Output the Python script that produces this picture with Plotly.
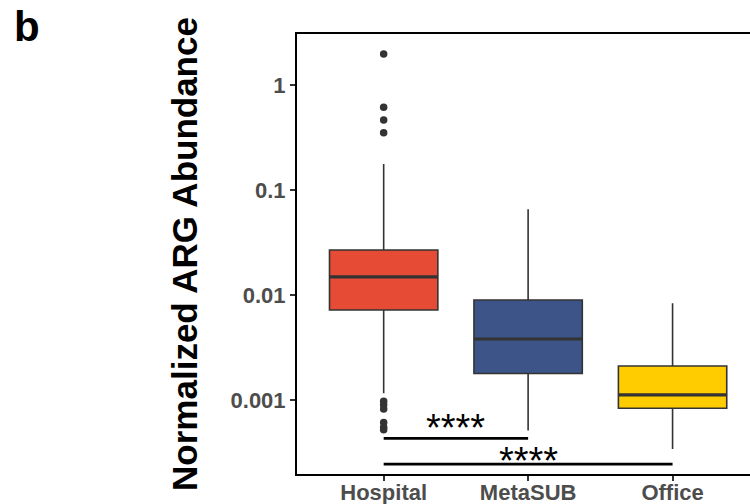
import math
import plotly.graph_objects as go

# Sample groups and their box statistics (normalized ARG abundance)
groups = ["Hospital", "MetaSUB", "Office"]
positions = [1, 2, 3]
fill_colors = ["#E64B35", "#3C5488", "#FFCC00"]
q1_vals = [0.00720, 0.00179, 0.000833]
median_vals = [0.0149, 0.00381, 0.00112]
q3_vals = [0.0268, 0.00895, 0.00211]
lower_whisker = [0.00116, 0.000511, 0.000341]
upper_whisker = [0.177, 0.0655, 0.00833]

# Outlying samples (Hospital only)
outlier_group = [1, 1, 1, 1, 1, 1, 1, 1, 1, 1]
outlier_vals = [1.97, 0.614, 0.464, 0.352, 0.00097, 0.00090, 0.00082, 0.00061, 0.00055, 0.00052]

# Pairwise comparisons: start group, end group, bar height, label height, label
cmp_start = [1, 1]
cmp_end = [2, 3]
cmp_bar_y = [0.000431, 0.000245]
cmp_label_y = [0.00062, 0.000298]
cmp_labels = ["****", "****"]

y_tickvals = [0.001, 0.01, 0.1, 1]
y_ticktext = ["0.001", "0.01", "0.1", "1"]

BOX_W = 0.75
EDGE = "#333333"
FONT = "Liberation Sans, Arial, sans-serif"

fig = go.Figure()

for i, g in enumerate(groups):
    fig.add_trace(go.Box(
        x=[positions[i]],
        q1=[q1_vals[i]], median=[median_vals[i]], q3=[q3_vals[i]],
        lowerfence=[lower_whisker[i]], upperfence=[upper_whisker[i]],
        width=BOX_W, whiskerwidth=0,
        fillcolor=fill_colors[i],
        line=dict(color=EDGE, width=1.6),
        boxpoints=False, name=g, showlegend=False, hoverinfo="skip",
    ))
    # thicker median bar
    fig.add_trace(go.Scatter(
        x=[positions[i] - BOX_W / 2, positions[i] + BOX_W / 2],
        y=[median_vals[i], median_vals[i]],
        mode="lines", line=dict(color=EDGE, width=3.2),
        showlegend=False, hoverinfo="skip",
    ))

fig.add_trace(go.Scatter(
    x=outlier_group, y=outlier_vals, mode="markers",
    marker=dict(color=EDGE, size=7.5),
    showlegend=False, hoverinfo="skip",
))

for s, e, by, ly, lab in zip(cmp_start, cmp_end, cmp_bar_y, cmp_label_y, cmp_labels):
    fig.add_trace(go.Scatter(
        x=[s, e], y=[by, by], mode="lines",
        line=dict(color="black", width=2.6),
        showlegend=False, hoverinfo="skip",
    ))
    # annotations on a log axis take log10 coordinates
    fig.add_annotation(
        x=(s + e) / 2, y=math.log10(ly), yref="y", xref="x", text=lab, showarrow=False,
        font=dict(family=FONT, size=38, color="black"),
        xanchor="center", yanchor="middle", yshift=-6,
    )

fig.add_annotation(
    xref="paper", yref="paper", x=-0.597, y=1.018, text="b", showarrow=False,
    font=dict(family=FONT, size=42, color="black", weight="bold"),
    xanchor="center", yanchor="middle",
)

fig.update_layout(
    width=750, height=504,
    margin=dict(l=297, r=0, t=34, b=30),
    plot_bgcolor="white", paper_bgcolor="white",
    showlegend=False,
    xaxis=dict(
        range=[0.4, 3.536], tickvals=positions, ticktext=groups,
        ticks="outside", ticklen=5, tickwidth=1.5, tickcolor=EDGE,
        showline=True, linecolor="black", linewidth=2, mirror=True,
        showgrid=False, zeroline=False, automargin=False,
        ticklabelstandoff=-7,
        tickfont=dict(family=FONT, size=22, color="#4D4D4D", weight="bold"),
    ),
    yaxis=dict(
        type="log", range=[-3.705, 0.486],
        tickvals=y_tickvals, ticktext=y_ticktext,
        ticks="outside", ticklen=5, tickwidth=1.5, tickcolor=EDGE,
        showline=True, linecolor="black", linewidth=2,
        showgrid=False, zeroline=False, automargin=False,
        tickfont=dict(family=FONT, size=22, color="#4D4D4D", weight="bold"),
        title=dict(text="Normalized ARG Abundance", standoff=22,
                   font=dict(family=FONT, size=35, color="black", weight="bold")),
    ),
)

fig.write_html("out.html")
